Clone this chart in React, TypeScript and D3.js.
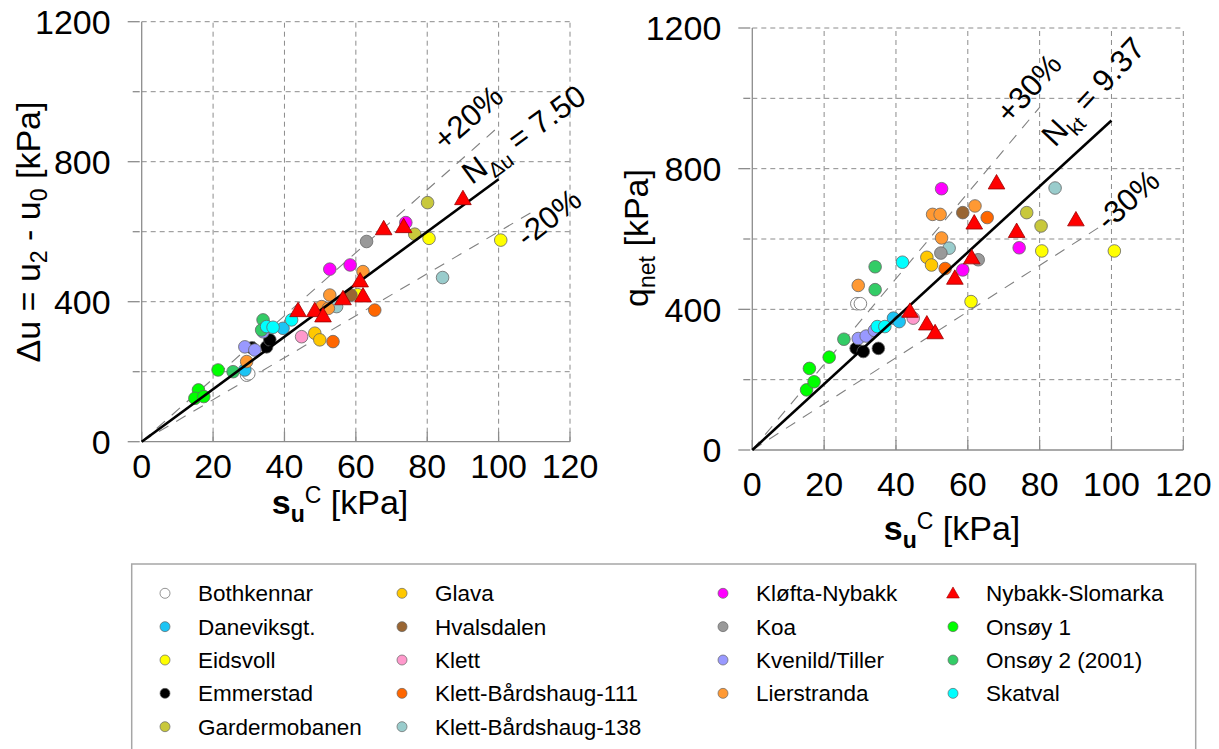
import React from 'react';
import * as d3 from 'd3';

const siteNames = ['Bothkennar', 'Daneviksgt.', 'Eidsvoll', 'Emmerstad', 'Gardermobanen', 'Glava', 'Hvalsdalen', 'Klett', 'Klett-Bårdshaug-111', 'Klett-Bårdshaug-138', 'Kløfta-Nybakk', 'Koa', 'Kvenild/Tiller', 'Lierstranda', 'Nybakk-Slomarka', 'Onsøy 1', 'Onsøy 2 (2001)', 'Skatval'];
const siteColors = ['#ffffff', '#1cc4f4', '#ffff00', '#000000', '#c8c83c', '#ffc800', '#996633', '#ff99cc', '#ff6600', '#99cccc', '#ff00ff', '#999999', '#9999ff', '#ff9933', '#ff0000', '#00ff00', '#33cc66', '#00ffff'];
const triangleSite = 'Nybakk-Slomarka';

// [site, su^C (kPa), Δu (kPa)]
const duPoints: [string, number, number][] = [
  ['Bothkennar', 29.4, 190], ['Bothkennar', 30.0, 194],
  ['Daneviksgt.', 28.9, 205], ['Daneviksgt.', 39.6, 324],
  ['Eidsvoll', 60.5, 420], ['Eidsvoll', 80.5, 581], ['Eidsvoll', 100.6, 576],
  ['Emmerstad', 30.9, 268], ['Emmerstad', 35.0, 271], ['Emmerstad', 35.9, 291],
  ['Gardermobanen', 76.5, 593], ['Gardermobanen', 80.1, 683],
  ['Glava', 48.5, 310], ['Glava', 49.9, 291],
  ['Hvalsdalen', 58.6, 419],
  ['Klett', 44.8, 300],
  ['Klett-Bårdshaug-111', 53.6, 286], ['Klett-Bårdshaug-111', 65.3, 376],
  ['Klett-Bårdshaug-138', 54.6, 386], ['Klett-Bårdshaug-138', 84.3, 469],
  ['Kløfta-Nybakk', 52.7, 493], ['Kløfta-Nybakk', 58.4, 505], ['Kløfta-Nybakk', 74.0, 626],
  ['Koa', 63.0, 572],
  ['Kvenild/Tiller', 28.9, 271], ['Kvenild/Tiller', 31.7, 262], ['Kvenild/Tiller', 34.0, 314],
  ['Lierstranda', 29.4, 229], ['Lierstranda', 50.4, 386], ['Lierstranda', 52.3, 381], ['Lierstranda', 52.7, 419], ['Lierstranda', 62.0, 486],
  ['Onsøy 1', 15.9, 148], ['Onsøy 1', 14.9, 124], ['Onsøy 1', 17.4, 129], ['Onsøy 1', 21.4, 205],
  ['Onsøy 2 (2001)', 25.6, 200], ['Onsøy 2 (2001)', 34.0, 348], ['Onsøy 2 (2001)', 33.6, 319],
  ['Skatval', 35.0, 329], ['Skatval', 36.8, 327], ['Skatval', 42.0, 348],
  ['Nybakk-Slomarka', 43.8, 371], ['Nybakk-Slomarka', 48.5, 371], ['Nybakk-Slomarka', 50.8, 356], ['Nybakk-Slomarka', 56.4, 405], ['Nybakk-Slomarka', 61.2, 456], ['Nybakk-Slomarka', 62.0, 413], ['Nybakk-Slomarka', 67.8, 605], ['Nybakk-Slomarka', 73.4, 611], ['Nybakk-Slomarka', 90.0, 691],
];

// [site, su^C (kPa), q_net (kPa)]
const qnetPoints: [string, number, number][] = [
  ['Bothkennar', 29.1, 416], ['Bothkennar', 30.1, 416],
  ['Daneviksgt.', 39.3, 375], ['Daneviksgt.', 40.9, 365],
  ['Eidsvoll', 60.9, 422], ['Eidsvoll', 80.6, 566], ['Eidsvoll', 100.8, 566],
  ['Emmerstad', 28.9, 289], ['Emmerstad', 30.9, 280], ['Emmerstad', 35.1, 289],
  ['Gardermobanen', 76.4, 675], ['Gardermobanen', 80.4, 637],
  ['Glava', 48.6, 548], ['Glava', 49.9, 526],
  ['Hvalsdalen', 58.6, 675],
  ['Klett', 44.8, 375],
  ['Klett-Bårdshaug-111', 53.7, 516], ['Klett-Bårdshaug-111', 65.4, 661],
  ['Klett-Bårdshaug-138', 54.8, 574], ['Klett-Bårdshaug-138', 84.3, 745],
  ['Kløfta-Nybakk', 52.7, 743], ['Kløfta-Nybakk', 58.6, 512], ['Kløfta-Nybakk', 74.3, 575],
  ['Koa', 52.5, 560], ['Koa', 62.9, 541],
  ['Kvenild/Tiller', 29.5, 317], ['Kvenild/Tiller', 31.7, 324], ['Kvenild/Tiller', 34.0, 340],
  ['Lierstranda', 29.5, 468], ['Lierstranda', 50.2, 670], ['Lierstranda', 52.3, 670], ['Lierstranda', 52.7, 603], ['Lierstranda', 62.0, 694],
  ['Onsøy 1', 15.1, 171], ['Onsøy 1', 15.9, 232], ['Onsøy 1', 17.2, 194], ['Onsøy 1', 21.4, 264],
  ['Onsøy 2 (2001)', 25.5, 315], ['Onsøy 2 (2001)', 34.2, 521], ['Onsøy 2 (2001)', 34.2, 456],
  ['Skatval', 34.8, 351], ['Skatval', 36.9, 351], ['Skatval', 41.8, 534],
  ['Nybakk-Slomarka', 43.9, 391], ['Nybakk-Slomarka', 48.6, 355], ['Nybakk-Slomarka', 50.9, 330], ['Nybakk-Slomarka', 56.4, 485], ['Nybakk-Slomarka', 61.1, 543], ['Nybakk-Slomarka', 61.8, 642], ['Nybakk-Slomarka', 68.0, 756], ['Nybakk-Slomarka', 73.6, 618], ['Nybakk-Slomarka', 90.1, 651],
];

// fitted lines: [slope N, su end, dashed?]
const duLines: [number, number, boolean][] = [[7.5 * 1.2, 100, true], [7.5 * 0.8, 110, true], [7.5, 100, false]];
const qnetLines: [number, number, boolean][] = [[9.37 * 1.3, 80, true], [9.37 * 0.7, 100, true], [9.37, 100, false]];

const xTicks = [0, 20, 40, 60, 80, 100, 120];
const yMajorTicks = [0, 400, 800, 1200];
const yMinorTicks = [200, 600, 1000];
const yGrid = [200, 400, 600, 800, 1000, 1200];

const FONT = "'Liberation Sans', Arial, Helvetica, sans-serif";
const color = d3.scaleOrdinal<string, string>().domain(siteNames).range(siteColors);

type Note = { su: number; v: number; angle: number; main: string; sub?: string; rest?: string };

const duNotes: Note[] = [
  { su: 84.9, v: 828, angle: -41, main: '+20%' },
  { su: 92.5, v: 733, angle: -36, main: 'N', sub: 'Δu', rest: ' = 7.50' },
  { su: 107.9, v: 553, angle: -38, main: '-20%' },
];
const qnetNotes: Note[] = [
  { su: 71.7, v: 924, angle: -48, main: '+30%' },
  { su: 84.3, v: 859, angle: -47, main: 'N', sub: 'kt', rest: ' = 9.37' },
  { su: 99.0, v: 620, angle: -42, main: '-30%' },
];

function Panel(props: {
  x: d3.ScaleLinear<number, number>;
  y: d3.ScaleLinear<number, number>;
  points: [string, number, number][];
  lines: [number, number, boolean][];
  notes: Note[];
  xTitleY: number;
  xTitleX: number;
  labelGap: number;
}) {
  const { x, y, points, lines, notes } = props;
  const x0 = x(0), y0 = y(0);
  const line = d3.line<[number, number]>().x(d => x(d[0])).y(d => y(d[1]));
  const tri = d3.symbol().type(d3.symbolTriangle).size(120)();
  const circles = points.filter(p => p[0] !== triangleSite);
  const tris = points.filter(p => p[0] === triangleSite);
  return (
    <g>
      {xTicks.filter(t => t > 0).map(t => (
        <line key={'gx' + t} x1={x(t)} x2={x(t)} y1={y(0)} y2={y(1200)} stroke="#8c8c8c" strokeWidth={1} strokeDasharray="5,4" />
      ))}
      {yGrid.map(t => (
        <line key={'gy' + t} x1={x(0)} x2={x(120)} y1={y(t)} y2={y(t)} stroke="#8c8c8c" strokeWidth={1} strokeDasharray="5,4" />
      ))}
      <line x1={x0} x2={x0} y1={y(0)} y2={y(1200)} stroke="#8c8c8c" strokeWidth={1.3} />
      <line x1={x(0)} x2={x(120)} y1={y0} y2={y0} stroke="#8c8c8c" strokeWidth={1.3} />
      {yMajorTicks.map(t => (
        <g key={'ym' + t}>
          <line x1={x0 - 14} x2={x0 - 2} y1={y(t)} y2={y(t)} stroke="#8c8c8c" strokeWidth={1.3} />
          <text x={x0 - 31} y={y(t)} dy="0.36em" textAnchor="end" fontSize={34} fontFamily={FONT} fill="#000">{t}</text>
        </g>
      ))}
      {yMinorTicks.map(t => (
        <line key={'yn' + t} x1={x0 - 9} x2={x0 - 2} y1={y(t)} y2={y(t)} stroke="#8c8c8c" strokeWidth={1.3} />
      ))}
      {xTicks.map(t => (
        <g key={'xt' + t}>
          <line x1={x(t)} x2={x(t)} y1={y0} y2={y0 - 10} stroke="#8c8c8c" strokeWidth={1.3} />
          <text x={x(t)} y={y0 + props.labelGap} textAnchor="middle" fontSize={34} fontFamily={FONT} fill="#000">{t}</text>
        </g>
      ))}
      {lines.filter(l => l[2]).map((l, i) => (
        <path key={'dl' + i} d={line([[0, 0], [l[1], l[0] * l[1]]]) || ''} stroke="#808080" strokeWidth={1.1} fill="none" strokeDasharray="11,9" />
      ))}
      {circles.map((p, i) => (
        <circle key={'c' + i} cx={x(p[1])} cy={y(p[2])} r={6.3} fill={color(p[0])} stroke="#666" strokeWidth={0.8} />
      ))}
      {lines.filter(l => !l[2]).map((l, i) => (
        <path key={'fl' + i} d={line([[0, 0], [l[1], l[0] * l[1]]]) || ''} stroke="#000" strokeWidth={2.6} fill="none" />
      ))}
      {tris.map((p, i) => (
        <path key={'t' + i} d={tri || ''} transform={`translate(${x(p[1])},${y(p[2])})`} fill="#ff0000" stroke="#990000" strokeWidth={0.8} />
      ))}
      {notes.map((n, i) => (
        <text key={'n' + i} transform={`translate(${x(n.su)},${y(n.v)}) rotate(${n.angle})`} fontSize={31} fontFamily={FONT} fill="#000">
          {n.main}
          {n.sub ? <tspan fontSize={21} dy={8}>{n.sub}</tspan> : null}
          {n.rest ? <tspan dy={-8}>{n.rest}</tspan> : null}
        </text>
      ))}
      <text x={props.xTitleX} y={props.xTitleY} textAnchor="middle" fontSize={34} fontFamily={FONT} fill="#000">
        <tspan fontWeight="bold">s</tspan>
        <tspan fontWeight="bold" fontSize={23} dy={8}>u</tspan>
        <tspan fontSize={23} dy={-19}>C</tspan>
        <tspan dy={11}> [kPa]</tspan>
      </text>
    </g>
  );
}

export default function App() {
  const xL = d3.scaleLinear().domain([0, 120]).range([141.7, 570]);
  const yL = d3.scaleLinear().domain([0, 1200]).range([441.7, 21.7]);
  const xR = d3.scaleLinear().domain([0, 120]).range([752.3, 1183.3]);
  const yR = d3.scaleLinear().domain([0, 1200]).range([450, 28]);

  const legendCols = [
    siteNames.slice(0, 5),
    siteNames.slice(5, 10),
    siteNames.slice(10, 14),
    siteNames.slice(14, 18),
  ];
  const colMarkerX = [165, 402, 723, 953];
  const rowY = d3.scaleLinear().domain([0, 4]).range([593.3, 726.7]);
  const legTri = d3.symbol().type(d3.symbolTriangle).size(70)();

  return (
    <svg width={1219} height={749} style={{ position: 'absolute', left: 0, top: 0, background: '#fff' }}>
      <rect x={0} y={0} width={1219} height={749} fill="#fff" />
      <Panel x={xL} y={yL} points={duPoints} lines={duLines} notes={duNotes} xTitleX={340} xTitleY={514} labelGap={36} />
      <Panel x={xR} y={yR} points={qnetPoints} lines={qnetLines} notes={qnetNotes} xTitleX={952} xTitleY={540} labelGap={46} />
      <text transform="translate(40,232) rotate(-90)" textAnchor="middle" fontSize={34} fontFamily={FONT} fill="#000">
        Δu = u<tspan fontSize={23} dy={7}>2</tspan><tspan dy={-7}> - u</tspan><tspan fontSize={23} dy={7}>0</tspan><tspan dy={-7}> [kPa]</tspan>
      </text>
      <text transform="translate(648,238) rotate(-90)" textAnchor="middle" fontSize={34} fontFamily={FONT} fill="#000">
        q<tspan fontSize={23} dy={7}>net</tspan><tspan dy={-7}> [kPa]</tspan>
      </text>
      <rect x={131.7} y={564} width={1064} height={200} fill="#fff" stroke="#a6a6a6" strokeWidth={1.5} />
      {legendCols.map((col, ci) => col.map((name, ri) => (
        <g key={name}>
          {name === triangleSite ? (
            <path d={legTri || ''} transform={`translate(${colMarkerX[ci]},${rowY(ri) + 1})`} fill="#ff0000" stroke="#990000" strokeWidth={0.6} />
          ) : (
            <circle cx={colMarkerX[ci]} cy={rowY(ri)} r={5} fill={color(name)} stroke="#666" strokeWidth={0.7} />
          )}
          <text x={colMarkerX[ci] + 33} y={rowY(ri) + 8} fontSize={22.5} fontFamily={FONT} fill="#000">{name}</text>
        </g>
      )))}
    </svg>
  );
}
